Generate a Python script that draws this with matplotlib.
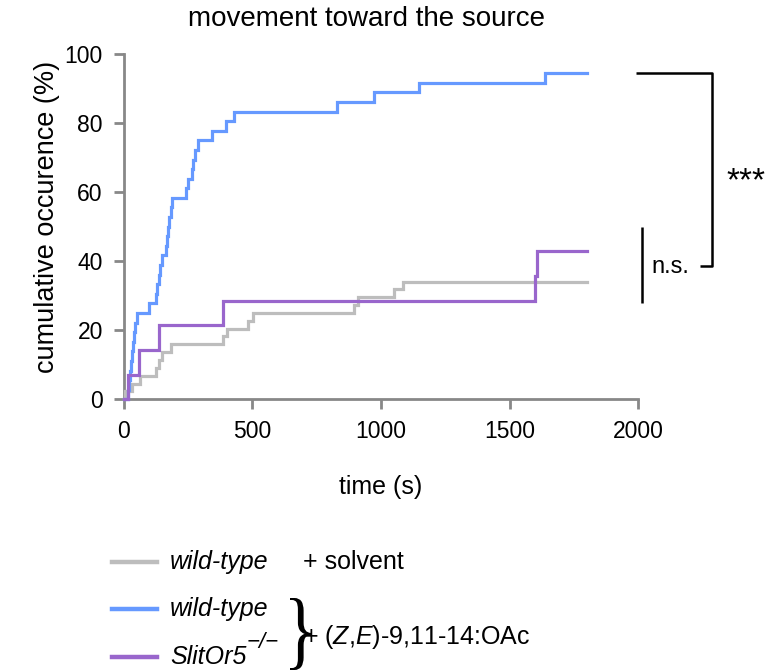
import matplotlib
matplotlib.use("Agg")
import matplotlib.pyplot as plt
from matplotlib.lines import Line2D
from matplotlib.textpath import TextPath
from matplotlib.patches import PathPatch
from matplotlib.font_manager import FontProperties
from matplotlib.transforms import Affine2D, IdentityTransform

plt.rcParams['font.family'] = ['Liberation Sans', 'DejaVu Sans']
plt.rcParams['mathtext.fontset'] = 'custom'
plt.rcParams['mathtext.rm'] = 'Liberation Sans'
plt.rcParams['mathtext.it'] = 'Liberation Sans:italic'

# ---- data ----
gray_t = [0, 5, 31, 63, 124, 137, 150, 182, 387, 400, 484, 502, 894, 912, 1051, 1085, 1800]
gray_y = [0, 2.3, 4.5, 6.8, 9.1, 11.4, 13.6, 15.9, 18.2, 20.5, 22.7, 25.0, 27.3, 29.5, 31.8, 34.1, 34.1]

blue_t = [0, 15, 20, 24, 28, 32, 36, 40, 45, 50, 97, 124, 128, 136, 142, 150, 165, 170, 174, 178,
          183, 188, 241, 251, 264, 270, 278, 290, 344, 396, 428, 830, 972, 1147, 1639, 1800]
blue_y = [0, 2.8, 5.6, 8.3, 11.1, 13.9, 16.7, 19.4, 22.2, 25.0, 27.8, 30.6, 33.3, 36.1, 38.9, 41.7,
          44.4, 47.2, 50.0, 52.8, 55.6, 58.3, 61.1, 63.9, 66.7, 69.4, 72.2, 75.0, 77.8, 80.6, 83.3,
          86.1, 88.9, 91.7, 94.4, 94.4]

purple_t = [0, 18, 60, 137, 387, 1600, 1606, 1800]
purple_y = [0, 7.1, 14.3, 21.4, 28.6, 35.7, 42.9, 42.9]

x_ticks = [0, 500, 1000, 1500, 2000]
y_ticks = [0, 20, 40, 60, 80, 100]

C_GRAY = '#BDBDBD'
C_BLUE = '#6699FF'
C_PURPLE = '#9966CC'
AX_COL = '#888888'

W, H = 782, 671
fig = plt.figure(figsize=(W / 100, H / 100), dpi=100)
ax = fig.add_axes([123.7 / W, 1 - 399.3 / H, (638.3 - 123.7) / W, (399.3 - 54) / H])

lw = 2.3
for t, y, c in [(gray_t, gray_y, C_GRAY), (blue_t, blue_y, C_BLUE), (purple_t, purple_y, C_PURPLE)]:
    ax.plot(t, y, drawstyle='steps-post', color=c, lw=lw, clip_on=False, zorder=5,
            solid_joinstyle='miter')

ax.set_xlim(0, 2000)
ax.set_ylim(0, 100)
ax.set_xticks(x_ticks)
ax.set_yticks(y_ticks)
for s in ['top', 'right']:
    ax.spines[s].set_visible(False)
for s in ['left', 'bottom']:
    ax.spines[s].set_color(AX_COL)
    ax.spines[s].set_linewidth(2)
ax.tick_params(axis='both', colors=AX_COL, width=2, length=7, labelsize=16.5,
               labelcolor='black')
ax.tick_params(axis='y', pad=8)
ax.tick_params(axis='x', pad=8)
ax.set_xlabel('time (s)', fontsize=18, labelpad=23)
fig.text(47.5 / W, 1 - 217 / H, 'cumulative occurence (%)', fontsize=19.5,
         rotation=90, ha='center', va='center')
fig.text(366 / W, 1 - 19 / H, 'movement toward the source', fontsize=20,
         ha='center', va='center')

# ---- significance annotations ----
kw = dict(color='black', lw=1.8, clip_on=False, solid_capstyle='butt')
ax.plot([1993, 2285, 2285, 2240], [94.6, 94.6, 38.6, 38.6], **kw)
ax.plot([2015.6, 2015.6], [50.0, 27.8], **kw)
ax.text(2341, 60.5, '***', fontsize=24, ha='left', va='baseline')
ax.text(2052, 36.6, 'n.s.', fontsize=17, ha='left', va='baseline')

# ---- custom legend ----
def fy(py):
    return 1 - py / H

for py, c in [(562, C_GRAY), (609, C_BLUE), (657, C_PURPLE)]:
    fig.add_artist(Line2D([112 / W, 157 / W], [fy(py), fy(py)], color=c, lw=3.2,
                          transform=fig.transFigure))

fs = 18
fig.text(170 / W, fy(562), 'wild-type', fontsize=fs, style='italic', va='center')
fig.text(303 / W, fy(562), '+ solvent', fontsize=fs, va='center')
fig.text(170 / W, fy(609), 'wild-type', fontsize=fs, style='italic', va='center')
fig.text(170 / W, fy(657), 'SlitOr5', fontsize=fs, style='italic', va='center')
fig.text(247 / W, fy(643), '\u2212/\u2212', fontsize=16, style='italic', va='center')
fig.text(303 / W, fy(637), '+ ($\\mathit{Z}$,$\\mathit{E}$)-9,11-14:OAc', fontsize=fs, va='center')

# brace
tp = TextPath((0, 0), '}', size=1, prop=FontProperties(family='Liberation Serif'))
ext = tp.get_extents()
x0, x1, y0, y1 = 290, 311, H - 670, H - 598
tr = (Affine2D().translate(-ext.x0, -ext.y0)
      .scale((x1 - x0) / ext.width, (y1 - y0) / ext.height)
      .translate(x0, y0))
fig.add_artist(PathPatch(tr.transform_path(tp), facecolor='black', edgecolor='none',
                         transform=IdentityTransform()))

fig.savefig('out.png', dpi=100)
